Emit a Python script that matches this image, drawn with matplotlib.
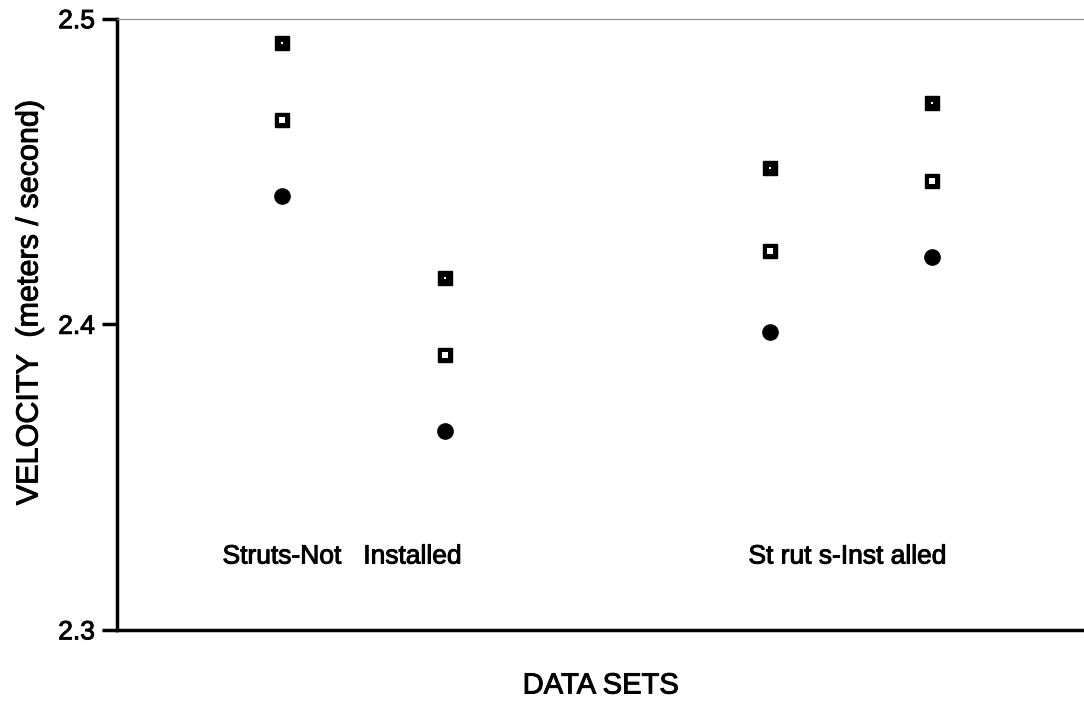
import matplotlib.pyplot as plt
import matplotlib.patheffects as pe

plt.rcParams['font.family'] = ['Liberation Sans', 'DejaVu Sans']

# data sets along the x axis
data_sets = [1, 2, 4, 5]
# three velocity series per data set (m/s)
vel_top = [2.492, 2.415, 2.451, 2.4725]
vel_mid = [2.467, 2.390, 2.424, 2.447]
vel_low = [2.442, 2.365, 2.3975, 2.422]

group_labels = ["Struts-Not   Installed", "St rut s-Inst alled"]
group_label_x = [1.37, 4.48]
group_label_y = 2.324

# slightly heavier text, like the old printer output
heavy = [pe.withStroke(linewidth=0.7, foreground='black')]

fig = plt.figure(figsize=(10.84, 7.19), dpi=100)
ax = fig.add_axes([0.108, 0.124, 0.892, 0.850])

# filled square with small white centre
ax.plot(data_sets, vel_top, linestyle='None', marker='s', markersize=10,
        color='black')
ax.plot(data_sets, vel_top, linestyle='None', marker='s', markersize=1.6,
        markeredgewidth=0, color='white')
# square with a white hole
ax.plot(data_sets, vel_mid, linestyle='None', marker='s', markersize=10,
        color='black')
ax.plot(data_sets, vel_mid, linestyle='None', marker='s', markersize=4.5,
        markeredgewidth=0, color='white')
# filled rounded diamond
ax.plot(data_sets, vel_low, linestyle='None', marker='o', markersize=11,
        color='black')

for lx, lab in zip(group_label_x, group_labels):
    ax.text(lx, group_label_y, lab, ha='center', va='center', fontsize=19,
            path_effects=heavy)

ax.set_xlim(-0.015, 5.935)
ax.set_ylim(2.3, 2.5)
ax.set_yticks([2.3, 2.4, 2.5])
ax.set_yticklabels(['2.3', '2.4', '2.5'], fontsize=19)
for t in ax.get_yticklabels():
    t.set_path_effects(heavy)
ax.set_xticks([])

ax.spines['right'].set_visible(False)
ax.spines['top'].set_linewidth(0.8)
ax.spines['top'].set_color('#888888')
ax.spines['left'].set_linewidth(2.5)
ax.spines['bottom'].set_linewidth(2.5)
ax.tick_params(axis='y', length=11, width=2.5, pad=5)

ax.set_xlabel('DATA SETS', fontsize=21, labelpad=30, path_effects=heavy)
ax.set_ylabel('VELOCITY  (meters / second)', fontsize=22, path_effects=heavy)
ax.yaxis.set_label_coords(-0.075, 0.535)

fig.savefig('out.png', dpi=100)
